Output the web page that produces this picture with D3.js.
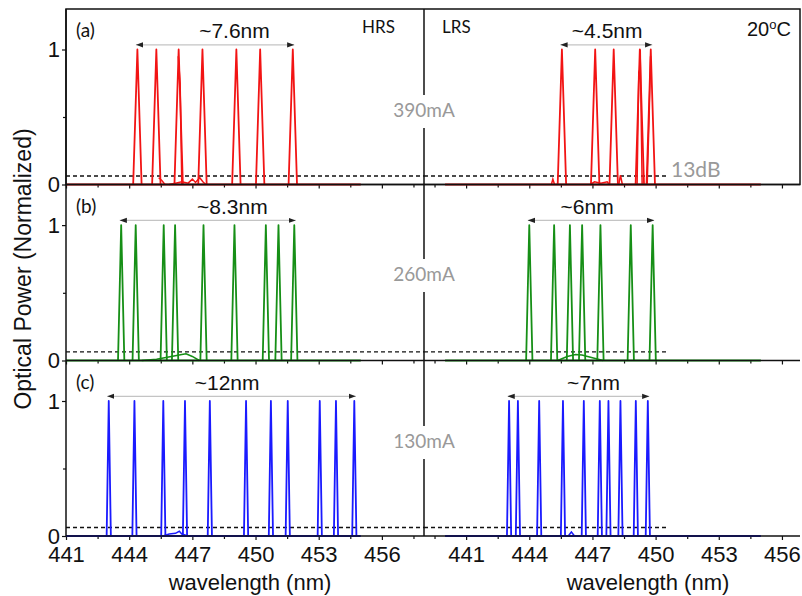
<!DOCTYPE html>
<html>
<head>
<meta charset="utf-8">
<script src="https://cdn.jsdelivr.net/npm/d3@7"></script>
<style>
  body { margin: 0; background: #fff; }
  svg { display: block; }
  .num { font-family: Arial, "Liberation Sans", sans-serif; }
  .cal { font-family: Lato, "Open Sans", sans-serif; }
</style>
</head>
<body>
<div class="chart"></div>
<script>
// peak centres (nm), read per panel
var hrs390 = [444.39, 445.29, 446.35, 447.48, 449.09, 450.22, 451.77];
var lrs390 = [445.55, 447.13, 448.01, 449.25, 449.77];
var hrs260 = [443.62, 444.31, 445.64, 446.18, 447.53, 449.0, 450.49, 451.09, 451.84];
var lrs260 = [444.0, 445.18, 445.93, 446.51, 447.38, 448.82, 449.86];
var hrs130 = [443.03, 444.25, 445.62, 446.65, 447.83, 449.55, 450.73, 451.53, 453.05, 453.82, 454.69];
var lrs130 = [443.04, 443.46, 444.47, 445.6, 446.59, 447.35, 447.76, 448.33, 449.06, 449.63];

// small side features near the floor / shoulders, [nm, power]
var hrs390Noise = [[445.9, 0], [446.2, 0.01], [446.5, 0.02], [446.8, 0.01], [447.0, 0.04], [447.15, 0.015], [447.35, 0.05], [447.5, 0.02], [447.64, 0]];
var hrs390Shoulder = [[446.33, 0.95], [446.42, 0.75], [446.5, 0]];
var hrs390Tail = [[445.4, 0.05], [445.55, 0.03], [445.7, 0]];
var lrs390Noise = [[445.05, 0], [445.12, 0.04], [445.2, 0]];
var lrs390Noise2 = [[446.9, 0], [447.1, 0.02], [447.4, 0.01], [447.7, 0.02], [447.8, 0]];
var lrs390Noise3 = [[448.25, 0], [448.33, 0.07], [448.42, 0]];
var lrs390Shoulder = [[449.12, 0], [449.2, 0.83], [449.24, 0.85], [449.27, 1], [449.36, 0]];
var lrs390Shoulder2 = [[449.6, 0], [449.7, 0.55], [449.76, 0.95]];
var hrs260Hump = [[444.6, 0], [445.3, 0.01], [446.0, 0.03], [446.5, 0.045], [446.7, 0.05], [447.0, 0.03], [447.33, 0]];
var lrs260Hump = [[445.35, 0], [445.8, 0.03], [446.2, 0.045], [446.5, 0.04], [447.0, 0.02], [447.5, 0]];
var hrs130Noise = [[445.6, 0], [445.9, 0.015], [446.2, 0.02], [446.38, 0.035], [446.5, 0.015], [446.8, 0]];
var lrs130Noise = [[445.85, 0], [446.0, 0.03], [446.15, 0]];

// span labels and threshold
var spanText = [["~7.6nm", "~4.5nm"], ["~8.3nm", "~6nm"], ["~12nm", "~7nm"]];
var spanLabelAt = [[449.0, 447.7], [448.9, 446.75], [448.65, 447.05]];
var currents = ["390mA", "260mA", "130mA"];
var letters = ["(a)", "(b)", "(c)"];
var floorLevel = 0.063;

var xTicksMajor = [441, 444, 447, 450, 453, 456];
var xTicksMinorL = [442.5, 445.5, 448.5, 451.5, 454.5, 457.5];
var xTicksMinorR = [439.5, 442.5, 445.5, 448.5, 451.5, 454.5];
var yTicks = [0, 1];

var colors = ["#f21414", "#168f16", "#1a1aff"];
var halfWidth = [0.2, 0.15, 0.1];

var W = 802, H = 596;
var svg = d3.select(".chart").append("svg").attr("width", W).attr("height", H);

var defs = svg.append("defs");
defs.append("marker").attr("id", "ah").attr("viewBox", "0 0 6 6")
  .attr("refX", 6).attr("refY", 3).attr("markerWidth", 6).attr("markerHeight", 6)
  .attr("orient", "auto-start-reverse")
  .append("path").attr("d", "M0,0.8L6,3L0,5.2Z").attr("fill", "#222");

var xL = d3.scaleLinear().domain([441, 458]).range([66, 424]);
var xR = d3.scaleLinear().domain([439, 457]).range([424, 803]);
var rowsY = [[184.5, 9], [360.5, 184.5], [536, 360.5]];

var panels = [
  [{peaks: hrs390, extra: [hrs390Noise, hrs390Shoulder, hrs390Tail]}, {peaks: lrs390, extra: [lrs390Noise, lrs390Noise2, lrs390Noise3, lrs390Shoulder, lrs390Shoulder2]}],
  [{peaks: hrs260, extra: [hrs260Hump]}, {peaks: lrs260, extra: [lrs260Hump]}],
  [{peaks: hrs130, extra: [hrs130Noise]}, {peaks: lrs130, extra: [lrs130Noise]}]
];

var frame = svg.append("g");

panels.forEach(function(row, r){
  var y = d3.scaleLinear().domain([0, 1.3]).range(rowsY[r]);

  row.forEach(function(p, c){
    var x = c === 0 ? xL : xR;
    var g = svg.append("g");
    var line = d3.line().x(function(d){ return x(d[0]); }).y(function(d){ return y(d[1]); });

    // dashed floor
    g.append("line")
      .attr("x1", x(c === 0 ? 441 : 439)).attr("x2", c === 0 ? 424 : x(450.6))
      .attr("y1", y(floorLevel)).attr("y2", y(floorLevel))
      .attr("stroke", "#111").attr("stroke-width", 1.3).attr("stroke-dasharray", "4,3");

    // x axis with minor ticks
    g.append("g").attr("transform", "translate(0," + rowsY[r][0] + ")")
      .call(d3.axisBottom(x).tickValues(xTicksMajor).tickSize(4).tickFormat(r === 2 ? d3.format("d") : ""))
      .call(function(a){
        a.select(".domain").remove();
        a.selectAll("line").attr("stroke", "#111").attr("stroke-width", 1.2);
        a.selectAll("text").attr("class", "num").attr("font-size", 22).attr("fill", "#111").attr("dy", "0.95em").attr("y", 5);
      });
    g.append("g").attr("transform", "translate(0," + rowsY[r][0] + ")")
      .call(d3.axisBottom(x).tickValues(c === 0 ? xTicksMinorL : xTicksMinorR).tickSize(3).tickFormat(""))
      .call(function(a){
        a.select(".domain").remove();
        a.selectAll("line").attr("stroke", "#111").attr("stroke-width", 1.2);
      });

    // spectrum: floor, peaks, side features
    var x0 = c === 0 ? 441 : 440;
    g.append("path").datum([[x0, 0], [455, 0]]).attr("d", line)
      .attr("fill", "none").attr("stroke", colors[r]).attr("stroke-width", 1.8);
    p.peaks.forEach(function(pk){
      g.append("path").datum([[pk - halfWidth[r], 0], [pk, 1], [pk + halfWidth[r], 0]])
        .attr("d", line).attr("fill", "none").attr("stroke", colors[r])
        .attr("stroke-width", 1.8).attr("stroke-linejoin", "round");
    });
    p.extra.forEach(function(seg){
      g.append("path").datum(seg).attr("d", line).attr("fill", "none")
        .attr("stroke", colors[r]).attr("stroke-width", 1.5);
    });

    // span arrow over the comb
    var first = d3.min(p.peaks), last = d3.max(p.peaks);
    g.append("line")
      .attr("x1", x(first) - 1.5).attr("x2", x(last) + 1.5)
      .attr("y1", y(1.035)).attr("y2", y(1.035))
      .attr("stroke", "#c4c4c4").attr("stroke-width", 1.2)
      .attr("marker-start", "url(#ah)").attr("marker-end", "url(#ah)");
    g.append("text").attr("class", "num")
      .attr("x", x(spanLabelAt[r][c])).attr("y", y(1.085))
      .attr("text-anchor", "middle").attr("font-size", 21).attr("fill", "#111")
      .text(spanText[r][c]);
  });

  // left y axis
  var ya = svg.append("g").attr("transform", "translate(66,0)");
  ya.call(d3.axisLeft(y).tickValues(yTicks).tickSize(4).tickFormat(d3.format("d")))
    .call(function(a){
      a.select(".domain").remove();
      a.selectAll("line").attr("stroke", "#111").attr("stroke-width", 1.2);
      a.selectAll("text").attr("class", "num").attr("font-size", 22).attr("fill", "#111").attr("x", -6).attr("dy", "0.34em");
    });
  ya.append("g").call(d3.axisLeft(y).tickValues([0.5]).tickSize(3).tickFormat(""))
    .call(function(a){
      a.select(".domain").remove();
      a.selectAll("line").attr("stroke", "#111").attr("stroke-width", 1.2);
    });

  // axis lines of the row
  frame.append("line").attr("x1", 66).attr("x2", 800).attr("y1", rowsY[r][0]).attr("y2", rowsY[r][0])
    .attr("stroke", "#111").attr("stroke-width", 1.5);
  frame.append("line").attr("x1", 424).attr("x2", 424).attr("y1", rowsY[r][1]).attr("y2", rowsY[r][0])
    .attr("stroke", "#111").attr("stroke-width", 1.5);

  svg.append("text").attr("class", "cal").attr("x", 76).attr("y", rowsY[r][1] + 28)
    .attr("font-size", 19).attr("fill", "#111").text(letters[r]);
});

frame.append("line").attr("x1", 66).attr("x2", 66).attr("y1", 9).attr("y2", 536)
  .attr("stroke", "#111").attr("stroke-width", 1.5);
frame.append("rect").attr("x", 66).attr("y", 9).attr("width", 734).attr("height", 175.5)
  .attr("fill", "none").attr("stroke", "#111").attr("stroke-width", 1.5);
frame.raise();

// drive current tags sit on the middle divider
var tagY = [117, 281, 448];
currents.forEach(function(t, i){
  svg.append("rect").attr("x", 390).attr("y", tagY[i] - 22).attr("width", 68).attr("height", 33).attr("fill", "#fff");
  svg.append("text").attr("class", "cal").attr("x", 424).attr("y", tagY[i])
    .attr("text-anchor", "middle").attr("font-size", 19).attr("fill", "#999").text(t);
});

svg.append("text").attr("class", "cal").attr("x", 362).attr("y", 33).attr("font-size", 17).attr("fill", "#111").text("HRS");
svg.append("text").attr("class", "cal").attr("x", 442).attr("y", 33).attr("font-size", 17).attr("fill", "#111").text("LRS");
svg.append("text").attr("class", "cal").attr("x", 671).attr("y", 177).attr("font-size", 21).attr("fill", "#999").text("13dB");

var temp = svg.append("text").attr("class", "num").attr("x", 747).attr("y", 36).attr("font-size", 20).attr("fill", "#111");
temp.append("tspan").text("20");
temp.append("tspan").attr("font-size", 13).attr("dy", -7).text("o");
temp.append("tspan").attr("dy", 7).text("C");

svg.append("text").attr("class", "num").attr("transform", "translate(31,269) rotate(-90)")
  .attr("text-anchor", "middle").attr("font-size", 23).attr("fill", "#111")
  .text("Optical Power (Normalized)");
svg.append("text").attr("class", "num").attr("x", 250).attr("y", 590)
  .attr("text-anchor", "middle").attr("font-size", 22).attr("fill", "#111").text("wavelength (nm)");
svg.append("text").attr("class", "num").attr("x", 648).attr("y", 590)
  .attr("text-anchor", "middle").attr("font-size", 22).attr("fill", "#111").text("wavelength (nm)");
</script>
</body>
</html>
